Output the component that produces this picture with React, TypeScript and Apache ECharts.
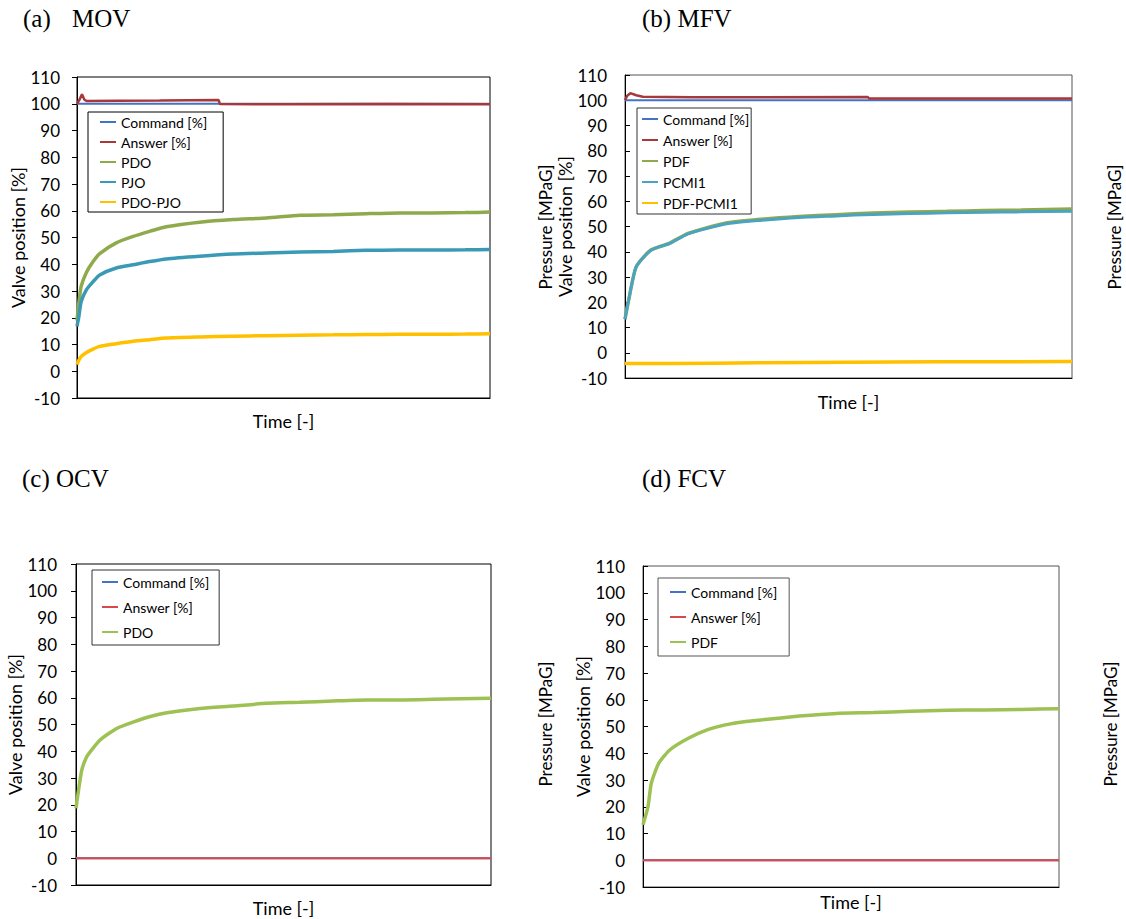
import React, { useEffect, useRef } from "react";
import * as echarts from "echarts";

// ---------- Data ----------
// Panel (a) MOV
const tA = [0, 0.4, 1, 2.3, 3.9, 5.5, 9.5, 13.6, 17.6, 21.6, 29.7, 37.8, 45.9, 54, 62, 70, 78, 86, 94, 100];
const pdoA = [19, 25, 31.7, 37, 41, 44, 48, 50.4, 52.3, 54, 55.7, 56.7, 57.3, 58.3, 58.5, 58.9, 59.2, 59.2, 59.3, 59.5];
const pjoA = [16.8, 20, 26, 30.5, 33.5, 36, 38.6, 39.8, 41, 42, 43, 43.8, 44.2, 44.6, 44.8, 45.2, 45.3, 45.3, 45.4, 45.5];
const pdoPjoA = [2.5, 4, 5.5, 7, 8.3, 9.3, 10.3, 11.2, 11.8, 12.4, 12.8, 13.1, 13.3, 13.5, 13.6, 13.7, 13.8, 13.8, 13.9, 14];
const cmdA_t = [0, 100];
const cmdA = [100, 100];
const ansA_t = [0, 0.6, 1.2, 1.8, 2.4, 10, 20, 34.3, 34.6, 50, 75, 100];
const ansA = [100, 101.5, 103.5, 101.5, 101, 101.1, 101.2, 101.4, 99.9, 99.8, 99.9, 99.8];

// Panel (b) MFV
const tB = [0, 0.8, 2.5, 5.8, 9.9, 14.1, 22.4, 30.6, 38.9, 47.2, 55.5, 63.7, 72, 80.3, 88.6, 100];
const pdfB = [13.3, 20.7, 34, 40.7, 43.3, 47.3, 51.3, 52.9, 54, 54.7, 55.3, 55.7, 56, 56.3, 56.5, 56.9];
const pcmiB = [13.3, 20.7, 34, 40.6, 43.2, 47.1, 51, 52.5, 53.6, 54.2, 54.8, 55.1, 55.4, 55.6, 55.8, 56];
const diffB_t = [0, 10, 30, 50, 70, 100];
const diffB = [-4.3, -4.3, -4.0, -3.8, -3.6, -3.5];
const cmdB_t = [0, 100];
const cmdB = [100, 100];
const ansB_t = [0, 0.5, 1.2, 2.5, 4, 15, 30, 54.3, 54.6, 75, 100];
const ansB = [100, 101.8, 102.8, 102, 101.4, 101.2, 101.2, 101.3, 100.7, 100.7, 100.7];

// Panel (c) OCV
const tC = [0, 1.4, 2.6, 5.8, 9.9, 13.9, 17.9, 21.9, 29.9, 37.9, 45.9, 53.9, 61.9, 70, 78, 86, 100];
const pdoC = [18.7, 33, 38, 44.2, 48.6, 51, 53, 54.4, 56, 56.9, 57.9, 58.3, 58.8, 59.2, 59.2, 59.4, 59.8];
const flatC_t = [0, 100];
const cmdC = [0, 0];
const ansC = [0, 0];

// Panel (d) FCV
const tD = [0, 1.2, 2, 3.8, 6.5, 10.9, 15.4, 19.8, 24.3, 28.7, 37.6, 46.5, 55.4, 64.3, 73.2, 82, 90.9, 100];
const pdfD = [13.3, 20, 28.8, 36.3, 41.3, 45.6, 48.7, 50.6, 51.8, 52.5, 53.9, 54.9, 55.2, 55.7, 56.1, 56.2, 56.4, 56.6];
const flatD_t = [0, 100];
const cmdD = [0, 0];
const ansD = [0, 0];

const yTicksMin = -10;
const yTicksMax = 110;
const yTickStep = 10;

// ---------- Styling ----------
const FONT = "Lato, 'Open Sans', sans-serif";
const SERIF = "'Liberation Serif', 'DejaVu Serif', serif";
const C_CMD = "#4472C4";
const C_ANS_AB = "#A8393B";
const C_ANS_CD = "#D9494A";
const C_GREEN_AB = "#8EAA4C";
const C_GREEN_CD = "#9DC153";
const C_TEAL_A = "#3A9AB5";
const C_TEAL_B = "#4AA3C0";
const C_YEL = "#FFC000";

const zip = (t: number[], v: number[]) => t.map((x, i) => [x, v[i]]);

type GridSpec = { left: number; top: number; width: number; height: number; border: string; inside: boolean; labelMargin: number; xNameGap: number; yNameGap: number };
const grids: GridSpec[] = [
  { left: 77, top: 77, width: 413, height: 321, border: "#000", inside: false, labelMargin: 17, xNameGap: 14, yNameGap: 50 },
  { left: 625, top: 75, width: 447, height: 303, border: "#555", inside: true, labelMargin: 18, xNameGap: 15, yNameGap: 41 },
  { left: 76, top: 564, width: 415, height: 321, border: "#000", inside: false, labelMargin: 19, xNameGap: 14, yNameGap: 50 },
  { left: 643, top: 566, width: 416, height: 321, border: "#555", inside: true, labelMargin: 18, xNameGap: 6, yNameGap: 50 },
];

function line(name: string, idx: number, data: number[][], color: string, width: number, smooth = false) {
  return {
    type: "line",
    name,
    xAxisIndex: idx,
    yAxisIndex: idx,
    data,
    showSymbol: false,
    symbol: "none",
    smooth: smooth ? 0.2 : false,
    lineStyle: { color, width },
    itemStyle: { color },
    silent: true,
  };
}

function legend(left: number, top: number, padding: number[], gap: number, items: [string, string][], border: string) {
  return {
    left,
    top,
    orient: "vertical",
    padding,
    itemGap: gap,
    itemWidth: 16,
    itemHeight: 2,
    icon: "rect",
    borderColor: border,
    borderWidth: 1,
    backgroundColor: "#fff",
    selectedMode: false,
    textStyle: { fontFamily: FONT, fontSize: 14, color: "#000", lineHeight: 14 },
    data: items.map(([name, color]) => ({ name, itemStyle: { color } })),
  };
}

function buildOption() {
  const grid = grids.map((g) => ({
    left: g.left,
    top: g.top,
    width: g.width,
    height: g.height,
    show: true,
    borderColor: g.border,
    borderWidth: 1,
    backgroundColor: "transparent",
    containLabel: false,
  }));
  const xAxis = grids.map((g, i) => ({
    type: "value",
    gridIndex: i,
    min: 0,
    max: 100,
    name: "Time [-]",
    nameLocation: "middle",
    nameGap: g.xNameGap,
    nameTextStyle: { fontFamily: FONT, fontSize: 18, color: "#000" },
    axisLine: { show: true, onZero: false, lineStyle: { color: "#000", width: 1 } },
    axisTick: { show: false },
    axisLabel: { show: false },
    splitLine: { show: false },
  }));
  const yAxis = grids.map((g, i) => ({
    type: "value",
    gridIndex: i,
    min: yTicksMin,
    max: yTicksMax,
    interval: yTickStep,
    name: "Valve position [%]",
    nameLocation: "middle",
    nameRotate: 90,
    nameGap: g.yNameGap,
    nameTextStyle: { fontFamily: FONT, fontSize: 18, color: "#000" },
    axisLine: { show: true, onZero: false, lineStyle: { color: "#000", width: 1 } },
    axisTick: { show: true, inside: g.inside, length: 5, lineStyle: { color: "#000" } },
    axisLabel: { show: true, margin: g.labelMargin, fontFamily: FONT, fontSize: 17, color: "#000" },
    splitLine: { show: false },
  }));

  const series = [
    // (a)
    line("Command [%]", 0, zip(cmdA_t, cmdA), C_CMD, 2),
    line("Answer [%]", 0, zip(ansA_t, ansA), C_ANS_AB, 2.5),
    line("PDO", 0, zip(tA, pdoA), C_GREEN_AB, 3.5, true),
    line("PJO", 0, zip(tA, pjoA), C_TEAL_A, 3.5, true),
    line("PDO-PJO", 0, zip(tA, pdoPjoA), C_YEL, 3.5, true),
    // (b)
    line("Command [%]", 1, zip(cmdB_t, cmdB), C_CMD, 2),
    line("Answer [%]", 1, zip(ansB_t, ansB), C_ANS_AB, 2.5),
    line("PDF", 1, zip(tB, pdfB), C_GREEN_AB, 3.5, true),
    line("PCMI1", 1, zip(tB, pcmiB), C_TEAL_B, 3, true),
    line("PDF-PCMI1", 1, zip(diffB_t, diffB), C_YEL, 3.5, true),
    // (c)
    line("Command [%]", 2, zip(flatC_t, cmdC), C_CMD, 2),
    line("Answer [%]", 2, zip(flatC_t, ansC), C_ANS_CD, 2),
    line("PDO", 2, zip(tC, pdoC), C_GREEN_CD, 3.5, true),
    // (d)
    line("Command [%]", 3, zip(flatD_t, cmdD), C_CMD, 2),
    line("Answer [%]", 3, zip(flatD_t, ansD), C_ANS_CD, 2),
    line("PDF", 3, zip(tD, pdfD), C_GREEN_CD, 3.5, true),
  ];

  const legends = [
    legend(88, 112, [3, 16, 3, 12], 6, [
      ["Command [%]", C_CMD], ["Answer [%]", C_ANS_AB], ["PDO", C_GREEN_AB], ["PJO", C_TEAL_A], ["PDO-PJO", C_YEL],
    ], "#000"),
    legend(637, 108, [4, 2, 4, 5], 7, [
      ["Command [%]", C_CMD], ["Answer [%]", C_ANS_AB], ["PDF", C_GREEN_AB], ["PCMI1", C_TEAL_B], ["PDF-PCMI1", C_YEL],
    ], "#333"),
    legend(92, 570, [5, 10, 6, 10], 11, [
      ["Command [%]", C_CMD], ["Answer [%]", C_ANS_CD], ["PDO", C_GREEN_CD],
    ], "#333"),
    legend(658, 578, [7, 12, 7, 12], 11, [
      ["Command [%]", C_CMD], ["Answer [%]", C_ANS_CD], ["PDF", C_GREEN_CD],
    ], "#555"),
  ];

  const titleStyle = (text: string) => ({ text, font: `25px ${SERIF}`, fill: "#000", verticalAlign: "middle", align: "left" });
  const pressStyle = { text: "Pressure [MPaG]", font: `17px ${FONT}`, fill: "#000", align: "center", verticalAlign: "middle" };

  const graphic = [
    { type: "text", x: 23, y: 18, style: titleStyle("(a)") },
    { type: "text", x: 72, y: 18, style: titleStyle("MOV") },
    { type: "text", x: 642, y: 18, style: titleStyle("(b) MFV") },
    { type: "text", x: 22, y: 478, style: titleStyle("(c) OCV") },
    { type: "text", x: 642, y: 478, style: titleStyle("(d) FCV") },
    { type: "text", x: 545, y: 227, rotation: Math.PI / 2, style: pressStyle },
    { type: "text", x: 1114, y: 227, rotation: Math.PI / 2, style: pressStyle },
    { type: "text", x: 545, y: 724, rotation: Math.PI / 2, style: pressStyle },
    { type: "text", x: 1110, y: 724, rotation: Math.PI / 2, style: pressStyle },
  ];

  return {
    animation: false,
    backgroundColor: "#fff",
    grid,
    xAxis,
    yAxis,
    legend: legends,
    series,
    graphic,
  };
}

export default function App() {
  const ref = useRef<HTMLDivElement>(null);
  useEffect(() => {
    if (!ref.current) return;
    const chart = echarts.init(ref.current, null, { renderer: "svg" });
    chart.setOption(buildOption() as any);
    return () => chart.dispose();
  }, []);
  return (
    <div
      ref={ref}
      style={{ position: "absolute", left: 0, top: 0, width: 1126, height: 919, background: "#fff" }}
    />
  );
}
